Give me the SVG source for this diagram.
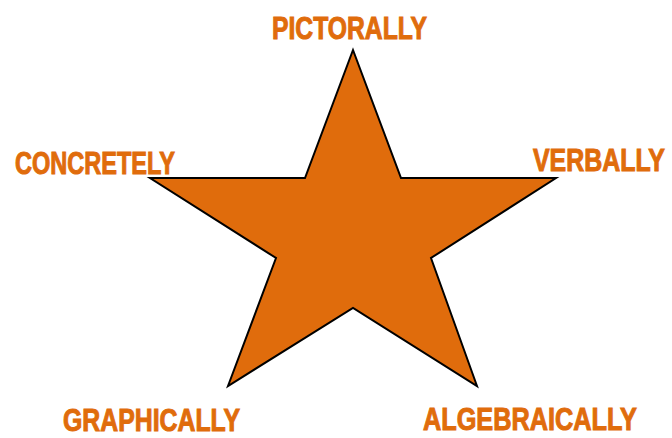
<svg xmlns="http://www.w3.org/2000/svg" width="672" height="438" viewBox="0 0 672 438">
<style>
.lbl{font-family:"Liberation Sans","DejaVu Sans",sans-serif;font-weight:bold;font-size:31px;fill:#E06C0C;stroke:#E06C0C;stroke-width:1}
.star{fill:#E06C0C;stroke:#000;stroke-width:2;stroke-linejoin:miter}
</style>
<rect width="672" height="438" fill="#fff"/>
<g id="star">
<polygon class="star" points="353,50 401,178 556,178 431,258 477,386 353,308 228,386 276,258 150,178 305,178"/>
</g>
<g id="pictorally"><text class="lbl" transform="translate(272,39) scale(0.8,1)" textLength="193.75" lengthAdjust="spacingAndGlyphs">PICTORALLY</text></g>
<g id="concretely"><text class="lbl" transform="translate(15,174) scale(0.8,1)" textLength="200" lengthAdjust="spacingAndGlyphs">CONCRETELY</text></g>
<g id="verbally"><text class="lbl" transform="translate(533,171) scale(0.8,1)" textLength="165" lengthAdjust="spacingAndGlyphs">VERBALLY</text></g>
<g id="graphically"><text class="lbl" transform="translate(63,431) scale(0.8,1)" textLength="221.25" lengthAdjust="spacingAndGlyphs">GRAPHICALLY</text></g>
<g id="algebraically"><text class="lbl" transform="translate(423,430) scale(0.8,1)" textLength="267.5" lengthAdjust="spacingAndGlyphs">ALGEBRAICALLY</text></g>
<g id="connectors"></g>
</svg>
